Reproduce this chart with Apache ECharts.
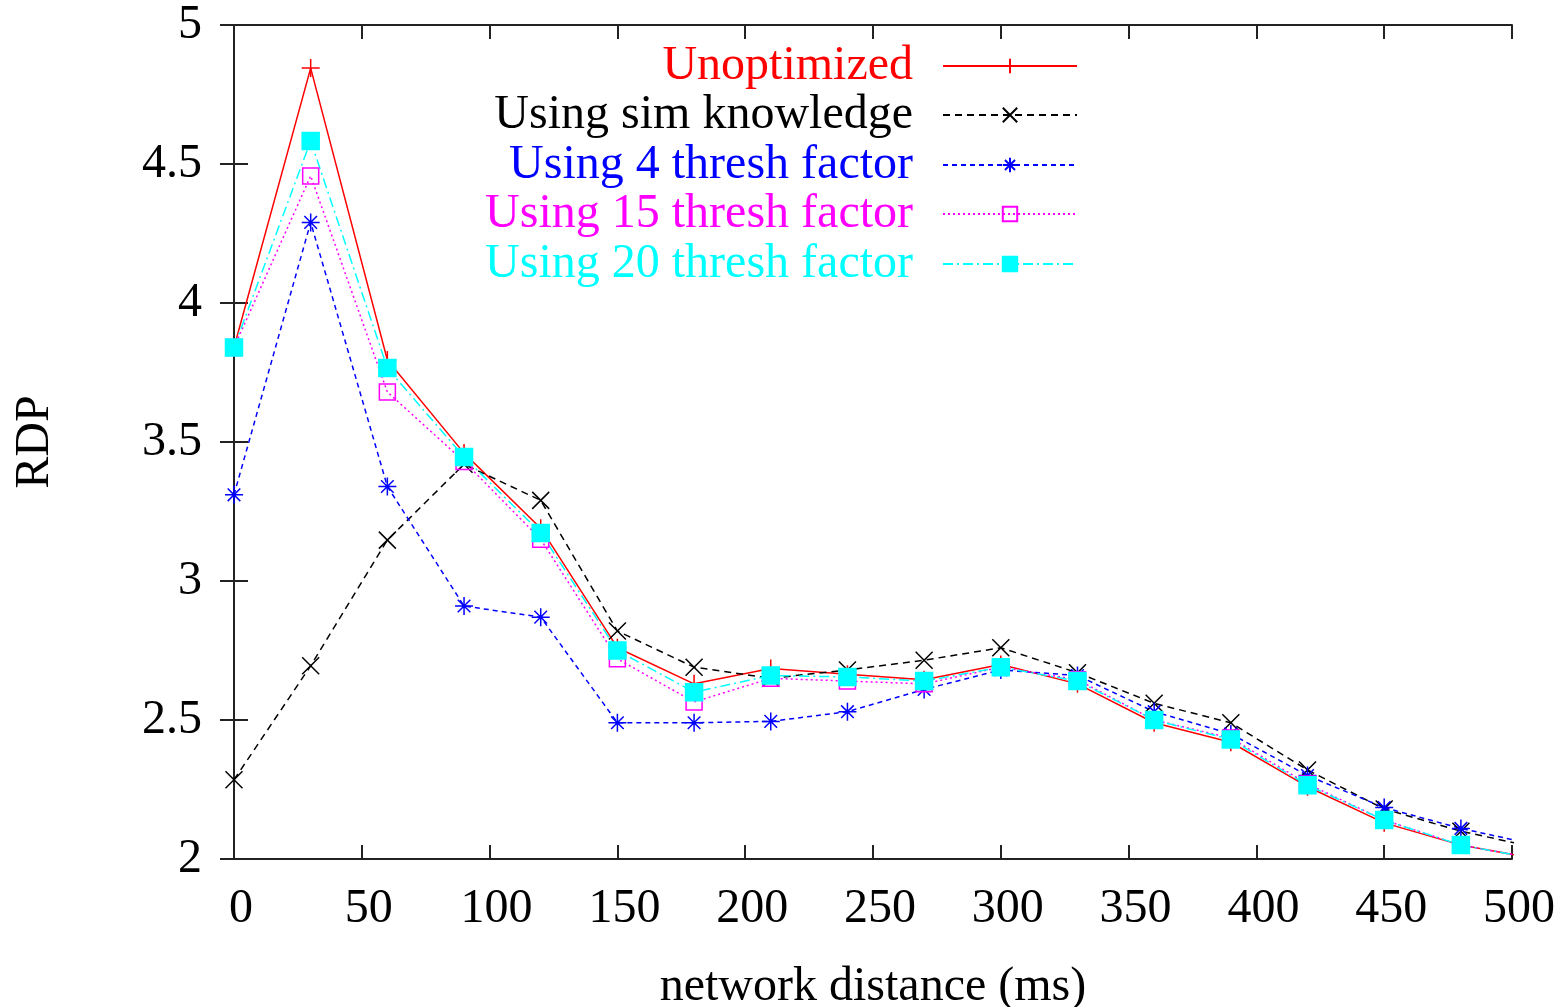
<!DOCTYPE html>
<html>
<head>
<meta charset="utf-8">
<script src="https://cdn.jsdelivr.net/npm/echarts@6/dist/echarts.min.js"></script>
<style>
  html, body { margin: 0; padding: 0; background: #fff; }
  #main { width: 1566px; height: 1007px; }
</style>
</head>
<body>
<div id="main"></div>
<script>
  // network distance (ms); the last point lies past the axis end, so the lines run to the edge
  var distance = [0, 30, 60, 90, 120, 150, 180, 210, 240, 270, 300, 330, 360, 390, 420, 450, 480, 510];

  var unoptimized = [3.84, 4.845, 3.795, 3.46, 3.19, 2.76, 2.63, 2.685, 2.665, 2.645, 2.70, 2.63, 2.49, 2.42, 2.26, 2.13, 2.05, 2.0];
  var simKnowledge = [2.285, 2.695, 3.147, 3.42, 3.29, 2.82, 2.69, 2.65, 2.68, 2.715, 2.76, 2.67, 2.56, 2.49, 2.32, 2.18, 2.10, 2.04];
  var thresh4 = [3.31, 4.29, 3.34, 2.91, 2.87, 2.49, 2.49, 2.495, 2.53, 2.61, 2.68, 2.66, 2.53, 2.45, 2.30, 2.185, 2.11, 2.05];
  var thresh15 = [3.84, 4.457, 3.68, 3.43, 3.15, 2.72, 2.565, 2.65, 2.64, 2.63, 2.69, 2.645, 2.50, 2.435, 2.27, 2.14, 2.05, 2.0];
  var thresh20 = [3.84, 4.583, 3.766, 3.446, 3.173, 2.75, 2.60, 2.66, 2.655, 2.64, 2.69, 2.64, 2.50, 2.43, 2.265, 2.14, 2.05, 2.0];

  var seriesNames = ['Unoptimized', 'Using sim knowledge', 'Using 4 thresh factor', 'Using 15 thresh factor', 'Using 20 thresh factor'];

  var font = '"Liberation Serif", "DejaVu Serif", serif';

  function pairs(vals) {
    return distance.map(function (d, i) { return [d, vals[i]]; });
  }

  var chart = echarts.init(document.getElementById('main'));

  function makeSeries(name, vals, color, symbol, size, dash, fill) {
    return {
      name: name,
      type: 'line',
      data: pairs(vals),
      clip: true,
      symbol: symbol,
      symbolSize: size,
      showAllSymbol: true,
      lineStyle: { color: color, width: 1.5, type: dash },
      itemStyle: { color: fill, borderColor: color, borderWidth: 1.5 },
      emphasis: { disabled: true },
      animation: false
    };
  }

  function makeLegend(name, color, top) {
    return {
      data: [name],
      right: 483,
      top: top,
      align: 'right',
      itemWidth: 134,
      itemHeight: 18,
      selectedMode: false,
      textStyle: { fontSize: 48, fontFamily: font, color: color, padding: [0, 25, 0, 0] }
    };
  }

  var axisLine = { show: true, lineStyle: { color: '#222', width: 2 } };
  var axisTick = { show: true, inside: true, length: 14, lineStyle: { color: '#222', width: 2 } };

  chart.setOption({
    backgroundColor: '#fff',
    animation: false,
    grid: { left: 234, right: 54, top: 25, bottom: 148, outerBoundsMode: 'none', containLabel: false },
    legend: [
      makeLegend(seriesNames[0], '#ff0000', 37),
      makeLegend(seriesNames[1], '#000000', 86),
      makeLegend(seriesNames[2], '#0000ff', 136),
      makeLegend(seriesNames[3], '#ff00ff', 185),
      makeLegend(seriesNames[4], '#00ffff', 235)
    ],
    xAxis: [
      {
        type: 'value', min: 0, max: 500, interval: 50,
        name: 'network distance (ms)', nameLocation: 'middle', nameGap: 104,
        nameTextStyle: { fontSize: 48, fontFamily: font, color: '#000' },
        axisLine: axisLine, axisTick: axisTick, splitLine: { show: false },
        axisLabel: { fontSize: 48, fontFamily: font, color: '#000', margin: 26, padding: [0, 0, 0, 14] }
      },
      {
        type: 'value', min: 0, max: 500, interval: 50, position: 'top',
        axisLine: axisLine, axisTick: axisTick, splitLine: { show: false },
        axisLabel: { show: false }
      }
    ],
    yAxis: [
      {
        type: 'value', min: 2, max: 5, interval: 0.5,
        name: 'RDP', nameLocation: 'middle', nameGap: 175, nameRotate: 90,
        nameTextStyle: { fontSize: 48, fontFamily: font, color: '#000' },
        axisLine: axisLine, axisTick: axisTick, splitLine: { show: false },
        axisLabel: { fontSize: 48, fontFamily: font, color: '#000', margin: 32 }
      },
      {
        type: 'value', min: 2, max: 5, interval: 0.5, position: 'right',
        axisLine: axisLine, axisTick: axisTick, splitLine: { show: false },
        axisLabel: { show: false }
      }
    ],
    series: [
      makeSeries(seriesNames[0], unoptimized, '#ff0000', 'path://M0,5 L10,5 M5,0 L5,10', 18, 'solid', 'none'),
      makeSeries(seriesNames[1], simKnowledge, '#000000', 'path://M0,0 L10,10 M10,0 L0,10', 17, [7, 5], 'none'),
      makeSeries(seriesNames[2], thresh4, '#0000ff', 'path://M0,5 L10,5 M5,0 L5,10 M1.5,1.5 L8.5,8.5 M8.5,1.5 L1.5,8.5', 18, [5, 4], 'none'),
      makeSeries(seriesNames[3], thresh15, '#ff00ff', 'rect', 16, [2, 3], 'none'),
      makeSeries(seriesNames[4], thresh20, '#00ffff', 'rect', 17, [10, 4, 2, 4], '#00ffff')
    ]
  });
</script>
</body>
</html>
